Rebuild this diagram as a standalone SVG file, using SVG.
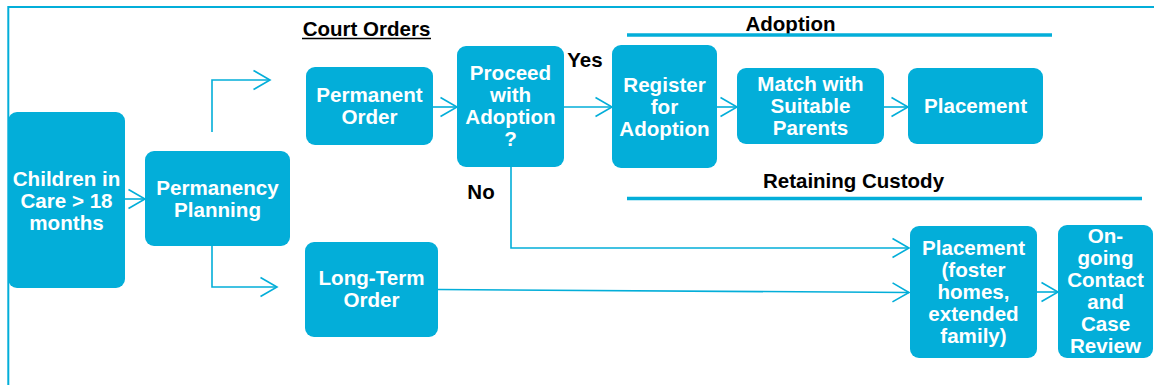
<svg xmlns="http://www.w3.org/2000/svg" width="1154" height="385" viewBox="0 0 1154 385">
<defs>
<style>
.node rect{fill:#03aed9;}
.node text{fill:#ffffff;font-family:"Liberation Sans",Arial,sans-serif;font-weight:bold;font-size:20.6px;text-anchor:middle;}
.lbl{fill:#000000;font-family:"Liberation Sans",Arial,sans-serif;font-weight:bold;font-size:20.5px;text-anchor:middle;}
.conn{fill:none;stroke:#03aed9;stroke-width:1.6;}
.bar{stroke:#03aed9;stroke-width:3.5;}
</style>
<marker id="chev" markerUnits="userSpaceOnUse" viewBox="0 0 19 22" refX="17.5" refY="11" markerWidth="19" markerHeight="22" orient="auto">
<path d="M1,1.5 L17.5,11 L1,20.5" fill="none" stroke="#03aed9" stroke-width="1.6"/>
</marker>
</defs>
<rect width="1154" height="385" fill="#ffffff"/>
<path d="M8.3,400 L8.3,7 L1160,7" fill="none" stroke="#03aed9" stroke-width="2"/>

<g id="headers">
<text class="lbl" x="366.5" y="36">Court Orders</text>
<line x1="302" y1="38.5" x2="431" y2="38.5" stroke="#000" stroke-width="1.5"/>
<text class="lbl" x="790.5" y="30.5">Adoption</text>
<line class="bar" x1="627" y1="35" x2="1052" y2="35"/>
<text class="lbl" x="853.5" y="188" font-size="20">Retaining Custody</text>
<line class="bar" x1="627" y1="198.5" x2="1142" y2="198.5"/>
<text class="lbl" x="585" y="67" font-size="19.5">Yes</text>
<text class="lbl" x="481" y="199" font-size="20">No</text>
</g>

<g id="connectors">
<line class="conn" x1="125" y1="199" x2="145" y2="199" marker-end="url(#chev)"/>
<polyline class="conn" points="212,132 212,80 270,80" marker-end="url(#chev)"/>
<polyline class="conn" points="212,246 212,287 277,287" marker-end="url(#chev)"/>
<line class="conn" x1="433" y1="107" x2="457" y2="107" marker-end="url(#chev)"/>
<line class="conn" x1="564" y1="107" x2="612" y2="107" marker-end="url(#chev)"/>
<line class="conn" x1="717" y1="107" x2="737" y2="107" marker-end="url(#chev)"/>
<line class="conn" x1="884" y1="107" x2="908" y2="107" marker-end="url(#chev)"/>
<polyline class="conn" points="511,167 511,248 909,248" marker-end="url(#chev)"/>
<line class="conn" x1="438" y1="289.5" x2="909" y2="292.5" marker-end="url(#chev)"/>
<line class="conn" x1="1037" y1="292" x2="1058" y2="292" marker-end="url(#chev)"/>
</g>

<g id="children" class="node">
<rect x="8" y="112" width="117" height="176" rx="9"/>
<text x="66.5" y="185.5">Children in</text>
<text x="66.5" y="207.5">Care &gt; 18</text>
<text x="66.5" y="229.5">months</text>
</g>
<g id="permanency" class="node">
<rect x="145" y="151" width="145" height="95" rx="9"/>
<text x="217.5" y="195">Permanency</text>
<text x="217.5" y="217">Planning</text>
</g>
<g id="permanent-order" class="node">
<rect x="306" y="67" width="127" height="78" rx="9"/>
<text x="369.5" y="102">Permanent</text>
<text x="369.5" y="124">Order</text>
</g>
<g id="long-term-order" class="node">
<rect x="305" y="242" width="133" height="95" rx="9"/>
<text x="371.5" y="285">Long-Term</text>
<text x="371.5" y="307">Order</text>
</g>
<g id="proceed" class="node">
<rect x="457" y="46" width="107" height="121" rx="9"/>
<text x="510.5" y="80">Proceed</text>
<text x="510.5" y="102">with</text>
<text x="510.5" y="124">Adoption</text>
<text x="510.5" y="146">?</text>
</g>
<g id="register" class="node">
<rect x="612" y="45" width="105" height="123" rx="9"/>
<text x="664.5" y="92">Register</text>
<text x="664.5" y="114">for</text>
<text x="664.5" y="136">Adoption</text>
</g>
<g id="match" class="node">
<rect x="737" y="68" width="147" height="76" rx="9"/>
<text x="810.5" y="91">Match with</text>
<text x="810.5" y="113">Suitable</text>
<text x="810.5" y="135">Parents</text>
</g>
<g id="placement-adoption" class="node">
<rect x="908" y="68" width="135" height="76" rx="9"/>
<text x="975.5" y="113">Placement</text>
</g>
<g id="placement-foster" class="node">
<rect x="910" y="226" width="127" height="132" rx="9"/>
<text x="973.5" y="255">Placement</text>
<text x="973.5" y="277">(foster</text>
<text x="973.5" y="299">homes,</text>
<text x="973.5" y="321">extended</text>
<text x="973.5" y="343">family)</text>
</g>
<g id="ongoing" class="node">
<rect x="1058" y="225" width="95" height="133" rx="9"/>
<text x="1105.5" y="243">On-</text>
<text x="1105.5" y="265">going</text>
<text x="1105.5" y="287">Contact</text>
<text x="1105.5" y="309">and</text>
<text x="1105.5" y="331">Case</text>
<text x="1105.5" y="353">Review</text>
</g>
</svg>
